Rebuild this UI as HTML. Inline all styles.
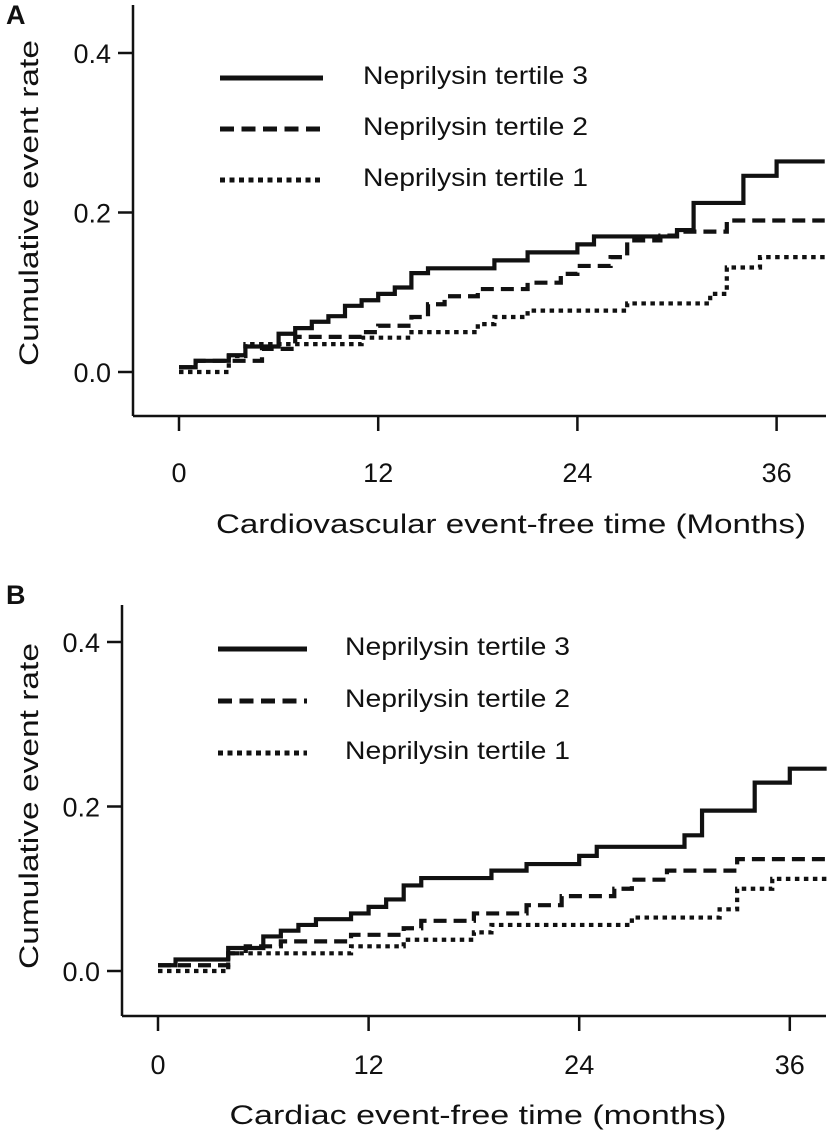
<!DOCTYPE html>
<html><head><meta charset="utf-8">
<style>
html,body{margin:0;padding:0;background:#fff;}
svg{display:block;}
text{font-family:"Liberation Sans",Arial,sans-serif;fill:#111;}
</style></head>
<body>
<svg id="chart" width="827" height="1136" viewBox="0 0 827 1136" xmlns="http://www.w3.org/2000/svg"></svg>
<script>
// ---- Panel A data ----
const aXTicks = [0, 12, 24, 36];
const aYTicks = [0.0, 0.2, 0.4];
const aYTickLabels = ["0.0", "0.2", "0.4"];
const aT3Times = [0,1,3,4,6,7,8,9,10,11,12,13,14,15,19,21,24,25,30,31,34,36];
const aT3Vals = [0.006,0.014,0.021,0.032,0.048,0.055,0.063,0.07,0.083,0.09,0.098,0.106,0.124,0.13,0.14,0.15,0.16,0.17,0.178,0.212,0.246,0.264];
const aT2Times = [0,1,5,7,11,12,14,15,16,18,21,23,24,26,27,29,30,33];
const aT2Vals = [0.006,0.014,0.029,0.044,0.05,0.058,0.069,0.085,0.095,0.104,0.112,0.123,0.133,0.144,0.165,0.171,0.176,0.19];
const aT1Times = [0,3,4,11,14,18,19,21,27,32,33,35];
const aT1Vals = [0,0.02,0.035,0.043,0.05,0.06,0.069,0.077,0.086,0.098,0.131,0.144];
// ---- Panel B data ----
const bXTicks = [0, 12, 24, 36];
const bYTicks = [0.0, 0.2, 0.4];
const bYTickLabels = ["0.0", "0.2", "0.4"];
const bT3Times = [0,1,4,6,7,8,9,11,12,13,14,15,19,21,24,25,30,31,34,36];
const bT3Vals = [0.007,0.014,0.028,0.042,0.049,0.056,0.063,0.07,0.078,0.087,0.104,0.113,0.122,0.13,0.14,0.151,0.165,0.195,0.229,0.246];
const bT2Times = [0,4,5,7,11,14,15,18,21,23,26,27,29,33];
const bT2Vals = [0.007,0.0215,0.03,0.036,0.044,0.052,0.061,0.07,0.08,0.091,0.1,0.111,0.122,0.136];
const bT1Times = [0,4,11,14,18,19,27,32,33,35];
const bT1Vals = [0,0.0215,0.03,0.038,0.047,0.056,0.065,0.075,0.1,0.112];
const legendLabels = ["Neprilysin tertile 3", "Neprilysin tertile 2", "Neprilysin tertile 1"];

const NS = "http://www.w3.org/2000/svg";
const svg = document.getElementById("chart");
function mk(tag, attrs, parent) {
  const e = document.createElementNS(NS, tag);
  for (const k in attrs) e.setAttribute(k, attrs[k]);
  (parent || svg).appendChild(e);
  return e;
}
const styles = [
  {w: 4.2, dash: null},
  {w: 4.2, dash: "13 7"},
  {w: 4.2, dash: "4.5 4.5"}
];

function panel(cfg) {
  const g = mk("g", {});
  
  
  const xs = m => cfg.x0 + m * cfg.pxPerMonth;
  const ys = v => cfg.y0 - v * cfg.pxPerUnit;
  const pl = mk("text", {x: cfg.letterX, y: cfg.letterY, "font-size": 27, "font-weight": "bold"}, g);
  pl.textContent = cfg.letter;
  
  
  const ya = mk("line", {x1: cfg.axX, y1: cfg.axTop, x2: cfg.axX, y2: cfg.axY, stroke: "#111", "stroke-width": 2.5}, g);
  
  
  const xa = mk("line", {x1: cfg.axX, y1: cfg.axY, x2: 826, y2: cfg.axY, stroke: "#111", "stroke-width": 2.5}, g);
  
  
  cfg.yTicks.forEach((v, i) => {
    const t = mk("line", {x1: cfg.axX - 15, y1: ys(v), x2: cfg.axX, y2: ys(v), stroke: "#111", "stroke-width": 2.5}, g);
    
    
    const l = mk("text", {x: cfg.axX - 22, y: ys(v) + 10, "font-size": 27, "text-anchor": "end"}, g);
    l.textContent = cfg.yTickLabels[i];
    
    
  });
  cfg.xTicks.forEach(m => {
    const t = mk("line", {x1: xs(m), y1: cfg.axY, x2: xs(m), y2: cfg.axY + 15, stroke: "#111", "stroke-width": 2.5}, g);
    
    
    const l = mk("text", {x: xs(m), y: cfg.xLabelY, "font-size": 27, "text-anchor": "middle"}, g);
    l.textContent = String(m);
    
    
  });
  const xt = mk("text", {x: cfg.xTitleX, y: cfg.xTitleY, "font-size": 27, "text-anchor": "middle", textLength: cfg.xTitleLen, lengthAdjust: "spacingAndGlyphs"}, g);
  xt.textContent = cfg.xTitle;
  
  
  const yt = mk("text", {x: 0, y: 0, "font-size": 27, "text-anchor": "middle", textLength: 326, lengthAdjust: "spacingAndGlyphs", transform: `translate(${cfg.yTitleX},${cfg.yTitleY}) rotate(-90)`}, g);
  yt.textContent = "Cumulative event rate";
  
  
  const series = [[cfg.t3t, cfg.t3v, "series-tertile-3"], [cfg.t2t, cfg.t2v, "series-tertile-2"], [cfg.t1t, cfg.t1v, "series-tertile-1"]];
  series.forEach((s, i) => {
    const [tt, vv, nm] = s;
    let d = `M${xs(tt[0])},${ys(vv[0])}`;
    for (let k = 1; k < tt.length; k++) {
      d += ` H${xs(tt[k])} V${ys(vv[k])}`;
    }
    d += ` H${xs(cfg.endMonth)}`;
    const p = mk("path", {d: d, fill: "none", stroke: "#111", "stroke-width": styles[i].w}, g);
    if (styles[i].dash) p.setAttribute("stroke-dasharray", styles[i].dash);
    
    
  });
  legendLabels.forEach((lab, i) => {
    const ly = cfg.legY + i * cfg.legGap;
    const ln = mk("line", {x1: cfg.legX1, y1: ly - 6, x2: cfg.legX2, y2: ly - 6, stroke: "#111", "stroke-width": 5}, g);
    if (styles[i].dash) ln.setAttribute("stroke-dasharray", i === 1 ? "14 7.5" : "5 4.5");
    
    
    const tx = mk("text", {x: cfg.legTextX, y: ly, "font-size": 25, textLength: 225, lengthAdjust: "spacingAndGlyphs"}, g);
    tx.textContent = lab;
    
    
  });
}

panel({
  name: "panel-a", letter: "A", letterX: 6, letterY: 24,
  x0: 179, pxPerMonth: 16.6, y0: 372, pxPerUnit: 797.5,
  axX: 133, axTop: 5, axY: 416, endMonth: 38.9,
  xTicks: aXTicks, yTicks: aYTicks, yTickLabels: aYTickLabels,
  xLabelY: 482, xTitle: "Cardiovascular event-free time (Months)", xTitleX: 511, xTitleY: 533, xTitleLen: 590,
  yTitleX: 38, yTitleY: 203,
  t3t: aT3Times, t3v: aT3Vals, t2t: aT2Times, t2v: aT2Vals, t1t: aT1Times, t1v: aT1Vals,
  legX1: 220, legX2: 323, legTextX: 363, legY: 84, legGap: 51
});
panel({
  name: "panel-b", letter: "B", letterX: 6, letterY: 604,
  x0: 158, pxPerMonth: 17.55, y0: 971, pxPerUnit: 822.5,
  axX: 122, axTop: 605, axY: 1016, endMonth: 38.1,
  xTicks: bXTicks, yTicks: bYTicks, yTickLabels: bYTickLabels,
  xLabelY: 1074, xTitle: "Cardiac event-free time (months)", xTitleX: 478, xTitleY: 1124, xTitleLen: 497,
  yTitleX: 38, yTitleY: 806,
  t3t: bT3Times, t3v: bT3Vals, t2t: bT2Times, t2v: bT2Vals, t1t: bT1Times, t1v: bT1Vals,
  legX1: 218, legX2: 307, legTextX: 345, legY: 655, legGap: 52
});
</script>
</body></html>
